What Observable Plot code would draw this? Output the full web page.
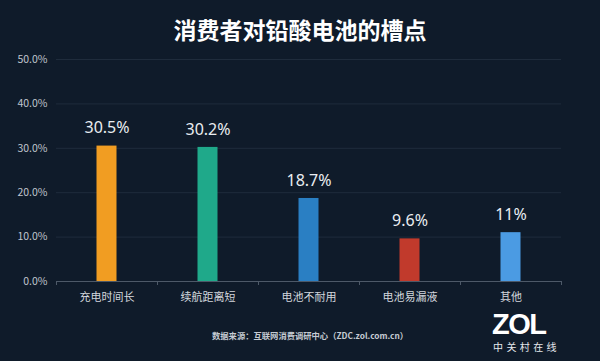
<!DOCTYPE html>
<html><head><meta charset="utf-8">
<script src="https://cdn.jsdelivr.net/npm/d3@7"></script>
<script src="https://cdn.jsdelivr.net/npm/@observablehq/plot@0.6"></script>
<style>
html,body{margin:0;padding:0;background:#0f1b2a;}
#wrap{position:relative;width:600px;height:361px;overflow:hidden;background:#0f1b2a;font-family:"Noto Sans CJK SC","Noto Sans",sans-serif;}
#title{position:absolute;left:0;top:12px;width:600px;text-align:center;color:#ffffff;font-size:23px;font-weight:700;line-height:34px;}
#caption{position:absolute;left:212px;top:329px;color:#c5cbd3;font-size:8.3px;font-weight:700;white-space:nowrap;}
#zol{position:absolute;left:492px;top:312px;color:#ffffff;font-family:"Liberation Sans",sans-serif;font-weight:700;font-size:29px;line-height:24px;letter-spacing:-1.5px;}
#zolcn{position:absolute;left:493px;top:342px;font-size:10px;letter-spacing:3.4px;line-height:10px;color:#e6e9ee;}
</style></head>
<body>
<div id="wrap">
  <div id="chart"></div>
  <div id="title">消费者对铅酸电池的槽点</div>
  <div id="caption">数据来源：互联网消费调研中心（ZDC.zol.com.cn）</div>
  <div id="zol">ZOL</div>
  <div id="zolcn">中关村在线</div>
</div>
<script>
const categories = ["充电时间长", "续航距离短", "电池不耐用", "电池易漏液", "其他"];
const values = [30.5, 30.2, 18.7, 9.6, 11];
const valueLabels = ["30.5%", "30.2%", "18.7%", "9.6%", "11%"];
const colors = ["#f19d22", "#1fa98a", "#2a7fc3", "#c13a2c", "#4b9be3"];
const yTicks = [0, 10, 20, 30, 40, 50];

const data = categories.map((c, i) => ({cat: c, value: values[i], label: valueLabels[i], color: colors[i]}));

const chart = Plot.plot({
  width: 600,
  height: 361,
  marginLeft: 56,
  marginRight: 39,
  marginTop: 59,
  marginBottom: 80,
  style: {background: "transparent", fontFamily: "'Noto Sans CJK SC','Noto Sans',sans-serif"},
  x: {domain: categories, padding: 0, label: null},
  y: {domain: [0, 50], label: null},
  marks: [
    Plot.ruleY(yTicks.filter(d => d > 0), {stroke: "#1f2c3c", strokeWidth: 1}),
    Plot.axisY({ticks: yTicks, tickSize: 0, tickPadding: 9, tickFormat: d => d.toFixed(1) + "%", fill: "#c0c6ce", fontSize: 10.5, label: null}),
    Plot.axisX({tickSize: 0, tickPadding: 12, fill: "#d3d7dd", fontSize: 11, label: null}),
    Plot.barY(data, {x: "cat", y: "value", fill: "color", insetLeft: 40.5, insetRight: 40.5}),
    Plot.ruleY([0], {stroke: "#4d5968", strokeWidth: 1}),
    Plot.ruleX(data, {x: "cat", dx: 50.5, y1: 0, y2: 0, insetBottom: -4, stroke: "#4d5968"}),
    Plot.ruleX([data[0]], {x: "cat", dx: -50.5, y1: 0, y2: 0, insetBottom: -4, stroke: "#4d5968"}),
    Plot.text(data, {x: "cat", y: "value", text: "label", dy: -18, fill: "#e9edf1", fontSize: 16, lineAnchor: "middle", fontFamily: "'Noto Sans',sans-serif"})
  ]
});
document.getElementById("chart").appendChild(chart);
</script>
</body></html>
